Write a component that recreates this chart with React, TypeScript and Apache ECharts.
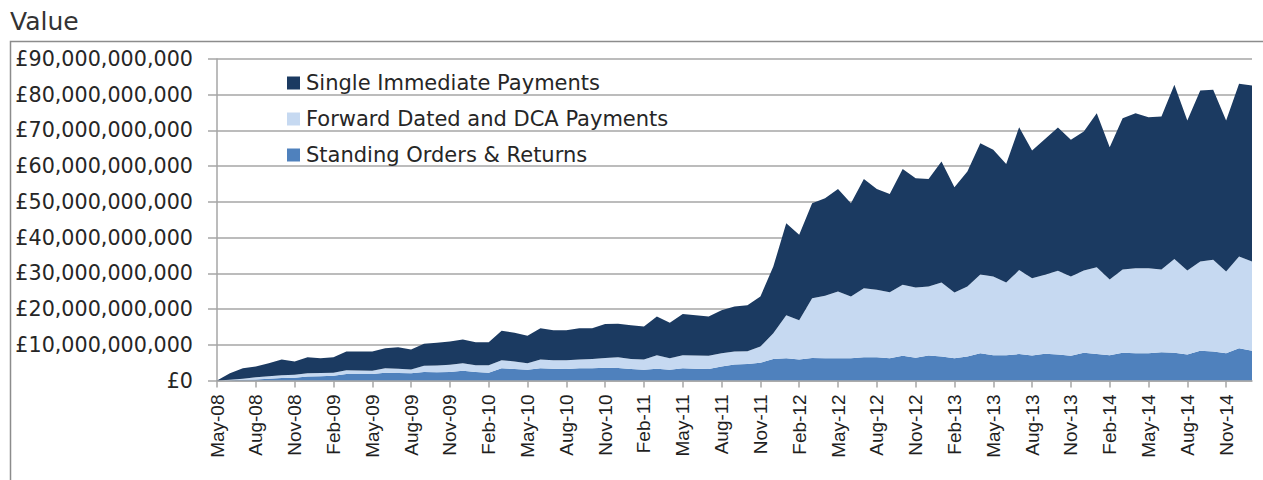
import React, { useEffect, useRef } from "react";
import * as echarts from "echarts";

// Monthly categories May-08 .. Jan-15
const MONTH_NAMES = ["Jan", "Feb", "Mar", "Apr", "May", "Jun", "Jul", "Aug", "Sep", "Oct", "Nov", "Dec"];
const months: string[] = [];
for (let i = 0; i < 81; i++) {
  const m = (4 + i) % 12;
  const y = 8 + Math.floor((4 + i) / 12);
  months.push(`${MONTH_NAMES[m]}-${String(y).padStart(2, "0")}`);
}

// Values in £ billions
const standingOrdersBn = [
  0, 0.1, 0.2, 0.3, 0.5, 0.7, 0.8, 1.1, 1.2, 1.3,
  1.8, 1.8, 1.8, 2.2, 2.1, 2.0, 2.4, 2.3, 2.4, 2.7,
  2.4, 2.2, 3.4, 3.2, 3.0, 3.4, 3.3, 3.2, 3.4, 3.4,
  3.6, 3.5, 3.2, 3.0, 3.3, 3.0, 3.4, 3.3, 3.2, 3.9,
  4.5, 4.6, 5.0, 6.0, 6.2, 5.9, 6.3, 6.2, 6.2, 6.2,
  6.5, 6.5, 6.2, 6.9, 6.4, 7.0, 6.7, 6.2, 6.7, 7.6,
  7.1, 7.1, 7.4, 7.0, 7.5, 7.3, 6.9, 7.8, 7.4, 7.1,
  7.8, 7.6, 7.6, 7.9, 7.8, 7.3, 8.3, 8.1, 7.6, 9.0,
  8.3,
];
const forwardDatedBn = [
  0, 0.1, 0.3, 0.6, 0.7, 0.8, 0.8, 0.9, 0.9, 0.9,
  1.1, 1.0, 0.9, 1.2, 1.2, 1.1, 1.7, 1.9, 2.0, 2.1,
  1.9, 2.1, 2.3, 2.1, 1.8, 2.5, 2.4, 2.5, 2.5, 2.6,
  2.7, 3.0, 2.8, 2.9, 3.8, 3.2, 3.7, 3.7, 3.7, 3.7,
  3.6, 3.6, 4.5, 7.2, 12.1, 11.0, 16.7, 17.5, 18.7, 17.3,
  19.3, 18.9, 18.5, 19.9, 19.6, 19.3, 20.7, 18.4, 19.6, 22.1,
  22.0, 20.3, 23.5, 21.6, 22.1, 23.4, 22.2, 23.0, 24.3, 21.2,
  23.3, 23.8, 23.8, 23.2, 26.2, 23.5, 25.0, 25.7, 22.9, 25.7,
  25.0,
];
const singleImmediateBn = [
  0, 1.8, 2.9, 3.0, 3.6, 4.4, 3.7, 4.5, 4.1, 4.3,
  5.2, 5.3, 5.4, 5.6, 6.0, 5.6, 6.2, 6.4, 6.5, 6.7,
  6.4, 6.4, 8.2, 8.1, 7.7, 8.7, 8.4, 8.4, 8.7, 8.6,
  9.5, 9.4, 9.5, 9.2, 10.8, 10.0, 11.5, 11.3, 11.0, 12.1,
  12.6, 12.9, 14.0, 18.7, 25.7, 23.9, 26.6, 27.3, 28.7, 26.1,
  30.6, 28.2, 27.5, 32.4, 30.6, 30.1, 33.9, 29.5, 32.2, 36.7,
  35.5, 33.2, 40.0, 35.8, 38.0, 40.1, 38.3, 38.9, 43.1, 37.0,
  42.3, 43.4, 42.3, 42.8, 48.8, 42.0, 47.9, 47.6, 42.3, 48.4,
  49.3,
];

const SERIES_NAMES = {
  single: "Single Immediate Payments",
  forward: "Forward Dated and DCA Payments",
  standing: "Standing Orders & Returns",
};
const COLORS = { single: "#1B3A61", forward: "#C6D9F1", standing: "#4F81BD" };

const Y_MAX = 90;
const Y_INTERVAL = 10;

const TEXT_FONT = "DejaVu Sans";
const AXIS_FONT = "Liberation Sans";
const GRID_COLOR = "#a6a6a6";

export default function App() {
  const ref = useRef<HTMLDivElement>(null);

  useEffect(() => {
    if (!ref.current) return;
    const chart = echarts.init(ref.current, null, { renderer: "svg" });

    const areaSeries = (name: string, data: number[], color: string) => ({
      name,
      type: "line",
      stack: "total",
      data,
      showSymbol: false,
      symbol: "none",
      lineStyle: { width: 0, color },
      itemStyle: { color },
      areaStyle: { color, opacity: 1 },
      emphasis: { disabled: true },
    });

    chart.setOption({
      animation: false,
      backgroundColor: "#ffffff",
      graphic: [
        {
          type: "rect",
          z: 0,
          silent: true,
          shape: { x: 10.5, y: 41.5, width: 1300, height: 500 },
          style: { fill: "none", stroke: "#8c8c8c", lineWidth: 1.5 },
        },
        {
          type: "text",
          left: 10,
          top: 9,
          style: {
            text: "Value",
            font: `25px '${TEXT_FONT}'`,
            fill: "#333333",
          },
        },
      ],
      legend: {
        orient: "vertical",
        left: 282,
        top: 67,
        itemWidth: 13,
        itemHeight: 13,
        itemGap: 14,
        icon: "rect",
        data: [SERIES_NAMES.single, SERIES_NAMES.forward, SERIES_NAMES.standing],
        textStyle: {
          fontFamily: TEXT_FONT,
          fontSize: 21,
          color: "#262626",
          lineHeight: 22,
          padding: [0, 0, 0, 1],
        },
      },
      grid: {
        left: 217,
        right: 11,
        top: 59,
        bottom: 99.5,
        containLabel: false,
      },
      xAxis: {
        type: "category",
        boundaryGap: false,
        data: months,
        axisLine: { show: true, lineStyle: { color: GRID_COLOR, width: 1.5 } },
        axisTick: {
          show: true,
          interval: 2,
          length: 7,
          lineStyle: { color: GRID_COLOR, width: 1.5 },
        },
        axisLabel: {
          interval: 2,
          rotate: 90,
          margin: 14,
          fontFamily: AXIS_FONT,
          fontSize: 19,
          color: "#1f1f1f",
        },
        splitLine: { show: false },
      },
      yAxis: {
        type: "value",
        min: 0,
        max: Y_MAX,
        interval: Y_INTERVAL,
        axisLine: { show: true, lineStyle: { color: GRID_COLOR, width: 1.5 } },
        axisTick: { show: true, length: 9, lineStyle: { color: GRID_COLOR, width: 1.5 } },
        axisLabel: {
          margin: 24,
          fontFamily: TEXT_FONT,
          fontSize: 20.7,
          color: "#262626",
          formatter: (v: number) => "£" + Math.round(v * 1e9).toLocaleString("en-GB"),
        },
        splitLine: { show: true, lineStyle: { color: GRID_COLOR, width: 1.5 } },
      },
      series: [
        areaSeries(SERIES_NAMES.standing, standingOrdersBn, COLORS.standing),
        areaSeries(SERIES_NAMES.forward, forwardDatedBn, COLORS.forward),
        areaSeries(SERIES_NAMES.single, singleImmediateBn, COLORS.single),
      ],
    });

    return () => chart.dispose();
  }, []);

  return (
    <div
      ref={ref}
      style={{ position: "fixed", left: 0, top: 0, width: 1263, height: 480 }}
    />
  );
}
